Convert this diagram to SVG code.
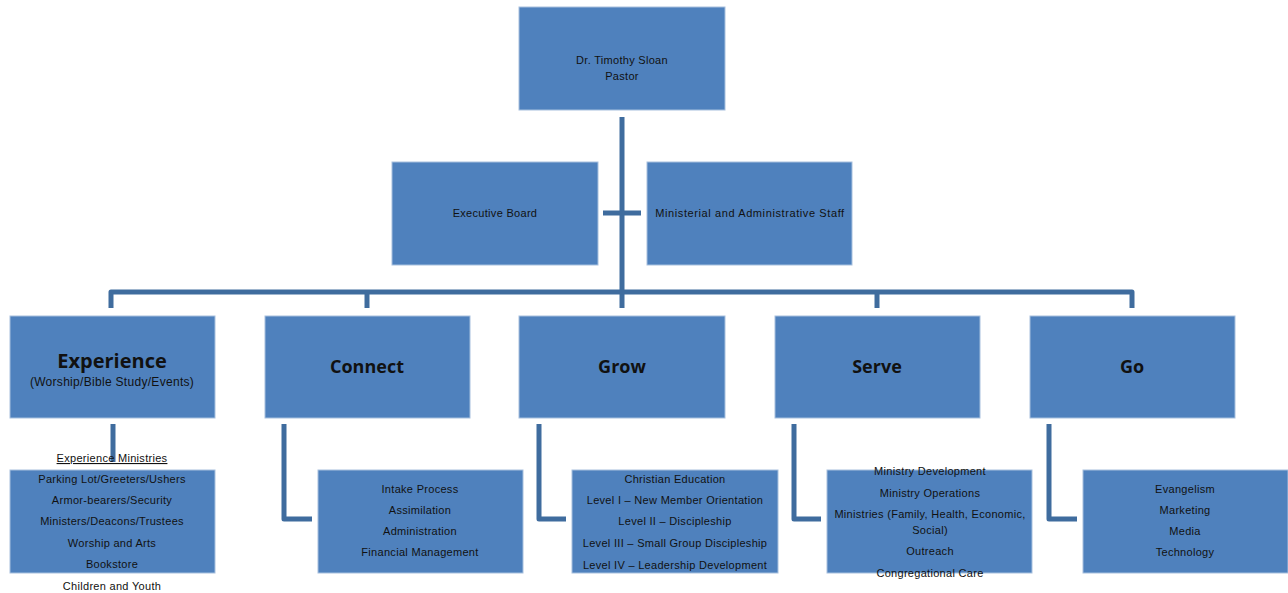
<svg xmlns="http://www.w3.org/2000/svg" width="1288" height="593" viewBox="0 0 1288 593">
<style>
.box{fill:#4F81BD;stroke:#A7C0DE;stroke-width:1}
.ln{fill:none;stroke:#3F6C9E;stroke-width:5;stroke-linejoin:round}
.t{font-family:"Liberation Sans",Arial,sans-serif;font-size:11px;fill:#111;text-anchor:middle;letter-spacing:0.3px}
.h{font-family:"Open Sans","Liberation Sans",Arial,sans-serif;font-weight:bold;font-size:18px;fill:#111;text-anchor:middle}
</style>
<rect width="1288" height="593" fill="#fff"/>
<g id="connectors">
<path class="ln" d="M622,117 V308"/>
<path class="ln" d="M603,213 H641"/>
<path class="ln" d="M111,308 V292 H1132 V308"/>
<path class="ln" d="M367,292 V308"/>
<path class="ln" d="M877,292 V308"/>
<path class="ln" d="M113,424 V462"/>
<path class="ln" d="M284,424 V519 H312"/>
<path class="ln" d="M539,424 V519 H566"/>
<path class="ln" d="M794,424 V519 H821"/>
<path class="ln" d="M1049,424 V519 H1077"/>
</g>
<g id="pastor">
<rect class="box" x="519" y="7" width="206" height="103"/>
<text class="t" x="622" y="64">Dr. Timothy  Sloan</text>
<text class="t" x="622" y="80">Pastor</text>
</g>
<g id="executive-board">
<rect class="box" x="392" y="162" width="206" height="103"/>
<text class="t" x="495" y="217">Executive Board</text>
</g>
<g id="staff">
<rect class="box" x="647" y="162" width="205" height="103"/>
<text class="t" x="750" y="217" style="letter-spacing:0.6px">Ministerial and Administrative  Staff</text>
</g>
<g id="experience">
<rect class="box" x="10" y="316" width="205" height="102"/>
<text class="h" x="112" y="368" style="font-size:20px">Experience</text>
<text class="t" x="112" y="386" style="font-size:12px">(Worship/Bible Study/Events)</text>
</g>
<g id="connect">
<rect class="box" x="265" y="316" width="205" height="102"/>
<text class="h" x="367" y="373">Connect</text>
</g>
<g id="grow">
<rect class="box" x="519" y="316" width="206" height="102"/>
<text class="h" x="622" y="373">Grow</text>
</g>
<g id="serve">
<rect class="box" x="775" y="316" width="205" height="102"/>
<text class="h" x="877" y="373">Serve</text>
</g>
<g id="go">
<rect class="box" x="1030" y="316" width="205" height="102"/>
<text class="h" x="1132" y="373">Go</text>
</g>
<g id="experience-ministries">
<rect class="box" x="10" y="470" width="205" height="103"/>
<text class="t" x="112" y="462" text-decoration="underline">Experience  Ministries</text>
<text class="t" x="112" y="483">Parking Lot/Greeters/Ushers</text>
<text class="t" x="112" y="504">Armor-bearers/Security</text>
<text class="t" x="112" y="525">Ministers/Deacons/Trustees</text>
<text class="t" x="112" y="547">Worship and Arts</text>
<text class="t" x="112" y="568">Bookstore</text>
<text class="t" x="112" y="590">Children and Youth</text>
</g>
<g id="connect-ministries">
<rect class="box" x="318" y="470" width="205" height="103"/>
<text class="t" x="420" y="493">Intake Process</text>
<text class="t" x="420" y="514">Assimilation</text>
<text class="t" x="420" y="535">Administration</text>
<text class="t" x="420" y="556">Financial Management</text>
</g>
<g id="grow-ministries">
<rect class="box" x="572" y="470" width="206" height="103"/>
<text class="t" x="675" y="483">Christian Education</text>
<text class="t" x="675" y="504">Level I – New Member Orientation</text>
<text class="t" x="675" y="525">Level II – Discipleship</text>
<text class="t" x="675" y="547">Level III – Small Group Discipleship</text>
<text class="t" x="675" y="569">Level IV – Leadership Development</text>
</g>
<g id="serve-ministries">
<rect class="box" x="827" y="470" width="205" height="103"/>
<text class="t" x="930" y="475">Ministry Development</text>
<text class="t" x="930" y="497">Ministry Operations</text>
<text class="t" x="930" y="518">Ministries (Family, Health, Economic,</text>
<text class="t" x="930" y="534">Social)</text>
<text class="t" x="930" y="555">Outreach</text>
<text class="t" x="930" y="577">Congregational Care</text>
</g>
<g id="go-ministries">
<rect class="box" x="1083" y="470" width="205" height="103"/>
<text class="t" x="1185" y="493">Evangelism</text>
<text class="t" x="1185" y="514">Marketing</text>
<text class="t" x="1185" y="535">Media</text>
<text class="t" x="1185" y="556">Technology</text>
</g>
</svg>
